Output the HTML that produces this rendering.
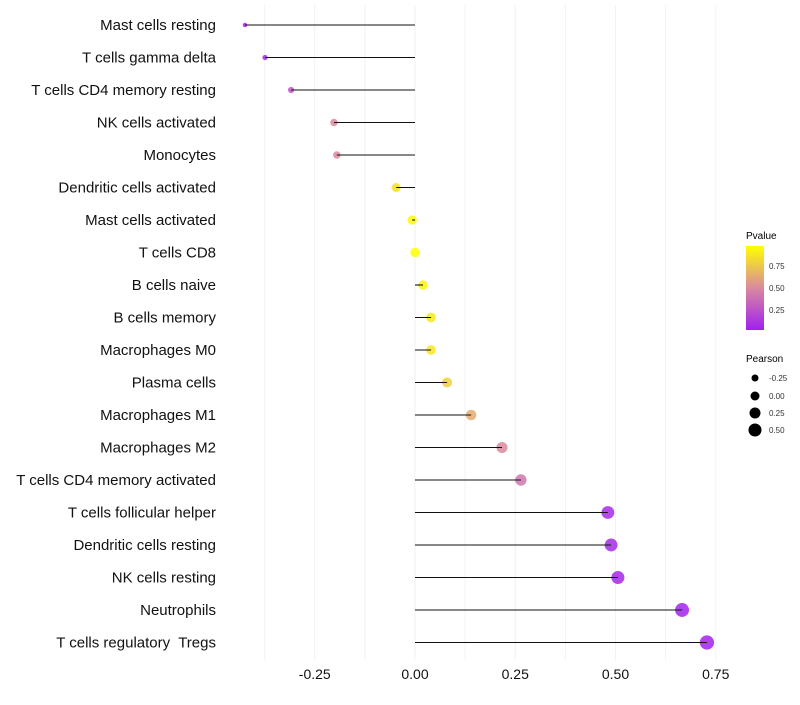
<!DOCTYPE html>
<html><head><meta charset="utf-8"><style>
body{margin:0;background:#fff;font-family:"Liberation Sans",sans-serif}
svg text{font-family:"Liberation Sans",sans-serif;white-space:pre}
</style></head><body>
<svg id="chart" width="800" height="700">
<g id="grid"></g>
<g id="marks"></g>
<g id="ylabels"></g>
<g id="xlabels"></g>
<g>
<defs><linearGradient id="pg" x1="0" y1="1" x2="0" y2="0">
<stop offset="0" stop-color="#a020f0"/><stop offset="0.5" stop-color="#d98a9e"/><stop offset="1" stop-color="#ffff00"/></linearGradient></defs>
<text x="746" y="239" font-size="10">Pvalue</text>
<rect x="746" y="246" width="18" height="84" fill="url(#pg)"/>
<text x="769" y="269" font-size="8" fill="#333">0.75</text>
<text x="769" y="291" font-size="8" fill="#333">0.50</text>
<text x="769" y="313" font-size="8" fill="#333">0.25</text>
</g>
<g>
<text x="746" y="362" font-size="10">Pearson</text>
<circle cx="755" cy="378" r="3.5" fill="#000"/><text x="769" y="381" font-size="8" fill="#333">-0.25</text>
<circle cx="755" cy="396" r="4.5" fill="#000"/><text x="769" y="399" font-size="8" fill="#333">0.00</text>
<circle cx="755" cy="413" r="5.5" fill="#000"/><text x="769" y="416" font-size="8" fill="#333">0.25</text>
<circle cx="755" cy="430" r="6.5" fill="#000"/><text x="769" y="433" font-size="8" fill="#333">0.50</text>
</g>
</svg>
<script>
const categories=["Mast cells resting","T cells gamma delta","T cells CD4 memory resting","NK cells activated","Monocytes","Dendritic cells activated","Mast cells activated","T cells CD8","B cells naive","B cells memory","Macrophages M0","Plasma cells","Macrophages M1","Macrophages M2","T cells CD4 memory activated","T cells follicular helper","Dendritic cells resting","NK cells resting","Neutrophils","T cells regulatory  Tregs"];
const pearson=[-0.424,-0.374,-0.309,-0.202,-0.195,-0.047,-0.007,0.0,0.02,0.04,0.04,0.08,0.14,0.217,0.264,0.481,0.489,0.506,0.666,0.728];
const pvalues=[0.03,0.05,0.25,0.5,0.5,0.85,0.97,1.0,0.95,0.9,0.9,0.8,0.65,0.5,0.4,0.05,0.05,0.04,0.02,0.01];
const xTicks=[-0.25,0,0.25,0.5,0.75];
const xTickLabels=["-0.25","0.00","0.25","0.50","0.75"];
const xGrid=[-0.375,-0.25,-0.125,0,0.125,0.25,0.375,0.5,0.625,0.75];
const NS="http://www.w3.org/2000/svg";
const xs=v=>415+v*401;
const ys=i=>25+i*32.5;
const rs=v=>Math.sqrt(Math.max(2,22+40*v));
function col(p){const a=[160,32,240],b=[217,138,158],c=[255,255,0];let s,e,t;if(p<0.5){s=a;e=b;t=p/0.5}else{s=b;e=c;t=(p-0.5)/0.5}
return "rgb("+s.map((x,k)=>Math.round(x+(e[k]-x)*t)).join(",")+")";}
function mk(tag,attrs,parent){const el=document.createElementNS(NS,tag);for(const k in attrs)el.setAttribute(k,attrs[k]);parent.appendChild(el);return el;}
const grid=document.getElementById('grid'),marks=document.getElementById('marks'),yl=document.getElementById('ylabels'),xl=document.getElementById('xlabels');
xGrid.forEach(v=>{const l=mk('line',{x1:xs(v),x2:xs(v),y1:5,y2:660,stroke:'#f2f2f2','stroke-width':1},grid);

});
categories.forEach((c,i)=>{
const y=ys(i);
const ci=mk('circle',{cx:xs(pearson[i]),cy:y,r:rs(pearson[i]),fill:col(pvalues[i]),'fill-opacity':0.85},marks);


const ln=mk('line',{x1:xs(0),x2:xs(pearson[i]),y1:y,y2:y,stroke:'#111','stroke-width':1.1},marks);


const t=mk('text',{x:216,y:y+5,'text-anchor':'end','font-size':15,fill:'#111'},yl);
t.textContent=c;


});
xTicks.forEach((v,i)=>{const t=mk('text',{x:xs(v),y:679,'text-anchor':'middle','font-size':14,fill:'#111'},xl);
t.textContent=xTickLabels[i];

});
</script>
</body></html>
